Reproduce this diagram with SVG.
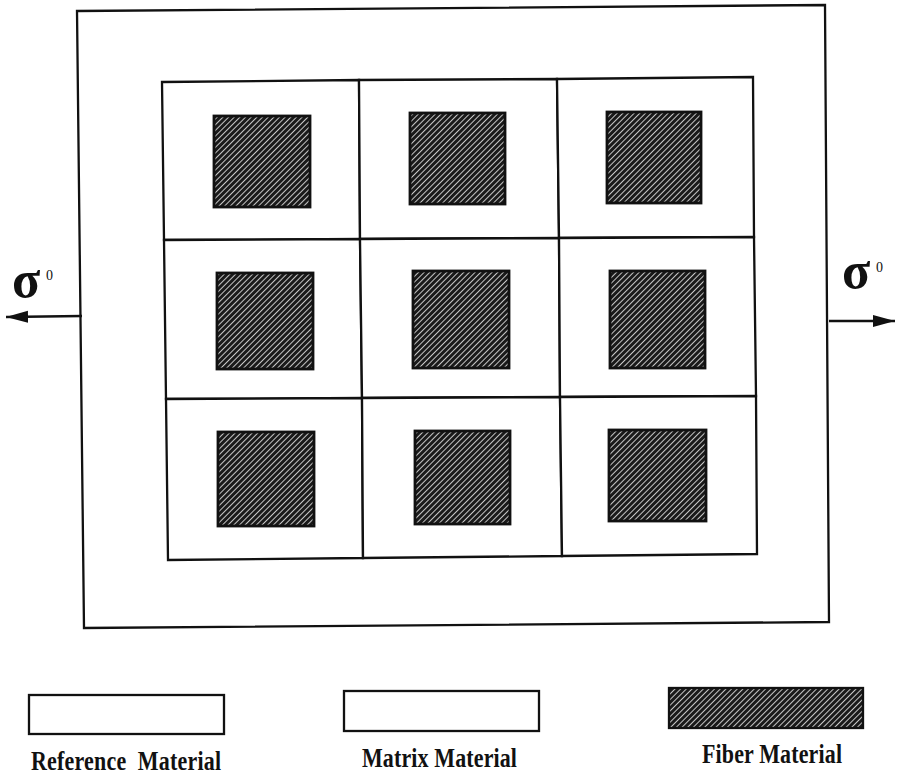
<svg xmlns="http://www.w3.org/2000/svg" width="898" height="777" viewBox="0 0 898 777">
<style>
.ln{fill:none;stroke:#111;stroke-width:2.3;stroke-linejoin:miter}
.cell{fill:#fff;stroke:#111;stroke-width:2.3}
.fib{fill:url(#hatch);stroke:#111;stroke-width:2.8}
.lbl{font-family:"Liberation Serif","Times New Roman",serif;font-weight:bold;font-size:22px;fill:#111}
.sig{font-family:"Liberation Serif","Times New Roman",serif;font-weight:bold;font-size:52px;fill:#111}
.sup{font-family:"Liberation Serif","Times New Roman",serif;font-size:14px;fill:#111}
</style>
<defs>
<pattern id="hatch" patternUnits="userSpaceOnUse" width="4" height="4" patternTransform="rotate(45)">
<rect width="4" height="4" fill="#1a1a1a"/>
<line x1="0" y1="0" x2="0" y2="4" stroke="#ffffff" stroke-width="1.5"/>
</pattern>
<marker id="ah" viewBox="0 0 22 12" refX="22" refY="6" markerWidth="22" markerHeight="13" markerUnits="userSpaceOnUse" orient="auto">
<path d="M0,0 L22,6 L0,12 Z" fill="#111"/>
</marker>
</defs>
<rect width="898" height="777" fill="#fff"/>
<g id="reference-box">
<path class="ln" d="M77,11 L825,5 L829,622 L84,628 Z"/>
</g>
<g id="cell-1-1"><path class="cell" d="M162,82 L359,80 L360,239 L164,240 Z"/><rect class="fib" x="214" y="116" width="96" height="91"/></g>
<g id="cell-1-2"><path class="cell" d="M359,80 L557,79 L559,238 L360,239 Z"/><rect class="fib" x="410" y="113" width="95" height="91"/></g>
<g id="cell-1-3"><path class="cell" d="M557,79 L753,77 L754,237 L559,238 Z"/><rect class="fib" x="607" y="112" width="94" height="91"/></g>
<g id="cell-2-1"><path class="cell" d="M164,240 L360,239 L362,398 L166,399 Z"/><rect class="fib" x="217" y="273" width="96" height="96"/></g>
<g id="cell-2-2"><path class="cell" d="M360,239 L559,238 L560,397 L362,398 Z"/><rect class="fib" x="413" y="271" width="96" height="97"/></g>
<g id="cell-2-3"><path class="cell" d="M559,238 L754,237 L756,396 L560,397 Z"/><rect class="fib" x="610" y="271" width="95" height="97"/></g>
<g id="cell-3-1"><path class="cell" d="M166,399 L362,398 L363,558 L168,560 Z"/><rect class="fib" x="218" y="432" width="96" height="94"/></g>
<g id="cell-3-2"><path class="cell" d="M362,398 L560,397 L562,556 L363,558 Z"/><rect class="fib" x="415" y="431" width="95" height="93"/></g>
<g id="cell-3-3"><path class="cell" d="M560,397 L756,396 L757,554 L562,556 Z"/><rect class="fib" x="609" y="430" width="97" height="91"/></g>
<g id="connectors">
<line class="ln" x1="82" y1="316" x2="6" y2="317" marker-end="url(#ah)"/>
<line class="ln" x1="829" y1="321" x2="895" y2="321" marker-end="url(#ah)"/>
</g>
<g id="load-left">
<text class="sig" x="12" y="297">σ</text>
<text class="sup" x="46" y="280">0</text>
</g>
<g id="load-right">
<text class="sig" x="842" y="288">σ</text>
<text class="sup" x="876" y="272">0</text>
</g>
<g id="legend-reference">
<rect x="29" y="695" width="195" height="39" fill="#fff" stroke="#111" stroke-width="2.3"/>
<text class="lbl" transform="translate(31,770) scale(1,1.2)" textLength="190" lengthAdjust="spacing" xml:space="preserve">Reference  Material</text>
</g>
<g id="legend-matrix">
<rect x="344" y="691" width="195" height="40" fill="#fff" stroke="#111" stroke-width="2.3"/>
<text class="lbl" transform="translate(362,767) scale(1,1.2)" textLength="155" lengthAdjust="spacing">Matrix Material</text>
</g>
<g id="legend-fiber">
<rect x="669" y="688" width="194" height="40" fill="url(#hatch)" stroke="#111" stroke-width="2.3"/>
<text class="lbl" transform="translate(702,763) scale(1,1.2)" textLength="140" lengthAdjust="spacing">Fiber Material</text>
</g>
</svg>
